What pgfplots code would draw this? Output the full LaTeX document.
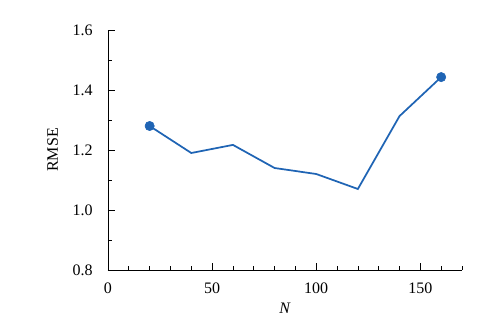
\documentclass[border=0pt]{standalone}
\usepackage{pgfplots}
\pgfplotsset{compat=1.18}
\usepackage{fontspec}
\setmainfont{Liberation Serif}
\definecolor{lblue}{HTML}{1F64B4}
\begin{document}
\begin{tikzpicture}[x=0.75pt,y=0.75pt]
\path[use as bounding box] (-108,-61) rectangle (395,270);
\begin{axis}[
  at={(0,0)}, anchor=origin,
  scale only axis, width=265.5pt, height=180pt,
  xmin=0, xmax=170, ymin=0.8, ymax=1.6,
  axis lines=left,
  axis line style={-, line width=0.6pt},
  xtick={0,50,100,150}, ytick={0.8,1.0,1.2,1.4,1.6},
  minor xtick={10,20,30,40,60,70,80,90,110,120,130,140,160,170},
  minor ytick={0.9,1.1,1.3,1.5},
  tick align=inside,
  major tick length=5pt, minor tick length=3pt,
  tick style={black, line width=0.5pt},
  yticklabel style={/pgf/number format/.cd, fixed, fixed zerofill, precision=1},
  /pgf/number format/assume math mode=true,
  ticklabel style={font=\fontsize{12}{14}\selectfont},
  label style={font=\fontsize{12}{14}\selectfont},
  xlabel={\textit{N}}, ylabel={RMSE},
  xticklabel shift=6pt, yticklabel shift=8pt,
  xlabel style={yshift=0pt},
  ylabel style={yshift=4pt},
  clip=false,
]
\addplot[lblue, line width=1.3pt, mark=none] coordinates {
(20,1.28) (40,1.19) (60,1.217) (80,1.14) (100,1.12) (120,1.07) (140,1.313) (160,1.443)};
\addplot[lblue, only marks, mark=*, mark size=3.5pt] coordinates {(20,1.28) (160,1.443)};
\end{axis}
\end{tikzpicture}
\end{document}
